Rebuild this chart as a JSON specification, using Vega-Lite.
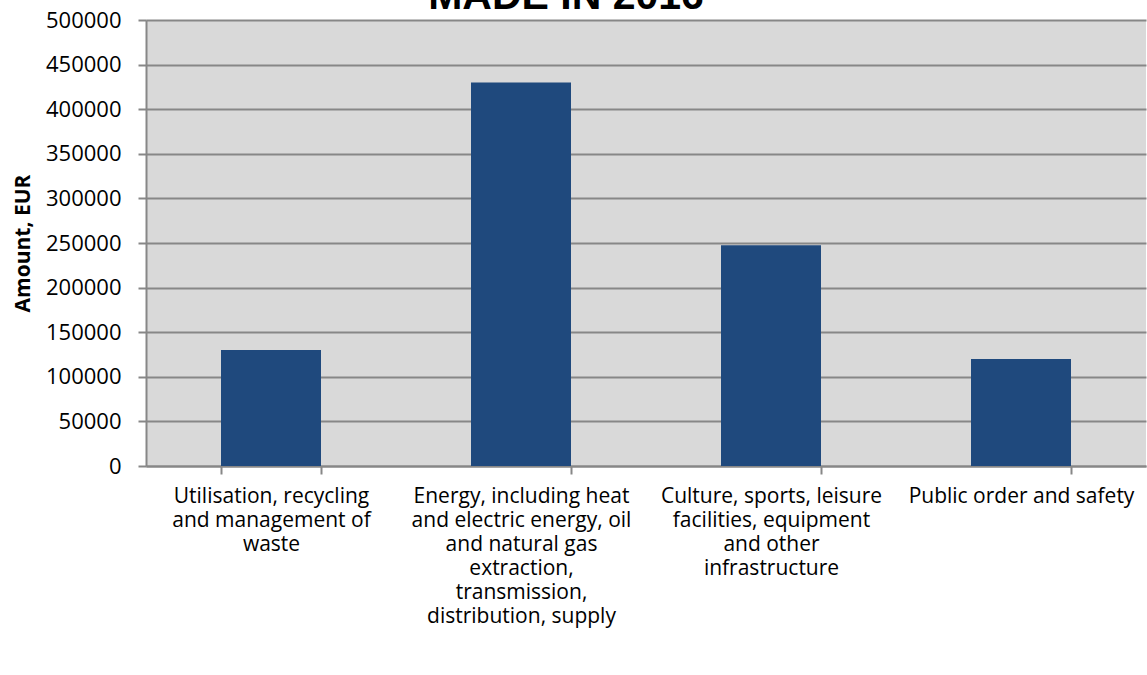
{
  "$schema": "https://vega.github.io/schema/vega-lite/v6.json",
  "width": 1000,
  "height": 446,
  "autosize": "none",
  "padding": {"left": 146, "top": 20, "right": 1, "bottom": 209},
  "background": "white",
  "config": {
    "view": {"fill": "#d9d9d9", "stroke": null},
    "font": "Open Sans"
  },
  "title": {
    "text": "MADE IN 2016",
    "font": "Liberation Sans",
    "fontSize": 41,
    "fontWeight": "bold",
    "color": "#000000",
    "anchor": "middle",
    "dx": -80,
    "dy": 48,
    "baseline": "alphabetic",
    "offset": 7
  },
  "data": {
    "values": [
      {"category": "Utilisation, recycling|and management of|waste", "amount": 130000},
      {"category": "Energy, including heat|and electric energy, oil|and natural gas|extraction,|transmission,|distribution, supply", "amount": 430000},
      {"category": "Culture, sports, leisure|facilities, equipment|and other|infrastructure", "amount": 247500},
      {"category": "Public order and safety", "amount": 120000}
    ]
  },
  "mark": {"type": "bar", "color": "#1f497d"},
  "encoding": {
    "x": {
      "field": "category",
      "type": "nominal",
      "sort": null,
      "scale": {"paddingInner": 0.6, "paddingOuter": 0.3},
      "axis": {
        "title": null,
        "labelAngle": 0,
        "labelExpr": "split(datum.label, '|')",
        "labelFontSize": 21,
        "labelLineHeight": 24,
        "labelColor": "#000000",
        "labelBaseline": "top",
        "labelPadding": 11,
        "labelLimit": 400,
        "tickBand": "extent",
        "tickSize": 8,
        "tickColor": "#878787",
        "tickWidth": 2,
        "domainColor": "#878787",
        "domainWidth": 2,
        "grid": false
      }
    },
    "y": {
      "field": "amount",
      "type": "quantitative",
      "scale": {"domain": [0, 500000], "nice": false},
      "axis": {
        "title": "Amount, EUR",
        "titleFontSize": 21,
        "titleFontWeight": "bold",
        "titleColor": "#000000",
        "titlePadding": 12,
        "values": [0, 50000, 100000, 150000, 200000, 250000, 300000, 350000, 400000, 450000, 500000],
        "format": "d",
        "labelFontSize": 22,
        "labelColor": "#000000",
        "labelPadding": 17,
        "tickSize": 8,
        "tickColor": "#878787",
        "tickWidth": 2,
        "domainColor": "#878787",
        "domainWidth": 2,
        "grid": true,
        "gridColor": "#878787",
        "gridWidth": 2
      }
    }
  }
}
